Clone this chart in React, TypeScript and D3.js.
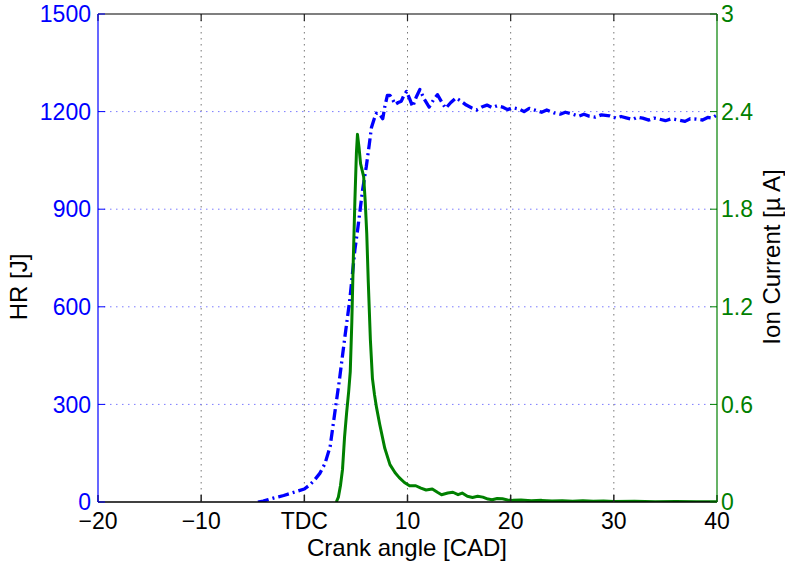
import React from "react";
import * as d3 from "d3";

const xTicks = [-20, -10, 0, 10, 20, 30, 40];
const xTickLabels = ["\u221220", "\u221210", "TDC", "10", "20", "30", "40"];
const hrTicks = [0, 300, 600, 900, 1200, 1500];
const ionTicks = [0, 0.6, 1.2, 1.8, 2.4, 3];
const ionTickLabels = ["0", "0.6", "1.2", "1.8", "2.4", "3"];

const hrAngle = [
  -4.5, -4, -3.5, -3, -2.5, -2, -1.5, -1, -0.5, 0, 0.5, 1, 1.5, 2, 2.5, 3, 3.4, 3.9, 4.4, 4.9,
  5.2, 5.65, 6.0, 6.3, 6.5, 6.8, 7.0, 7.3, 7.6, 7.8, 8.05, 8.3, 8.55, 8.8, 9.1, 9.4, 9.65, 9.9,
  10.2, 10.5, 10.85, 11.2, 11.6, 12.1, 12.5, 12.9, 13.3, 13.7, 14.2, 14.7, 15.2, 15.7, 16.2,
  16.7, 17.2, 17.7, 18.2, 18.7, 19.2, 19.7, 20.2, 20.8, 21.3, 21.8, 22.5, 23.0, 23.5, 24.2,
  24.8, 25.3, 26.0, 26.6, 27.1, 27.6, 28.2, 28.8, 29.6, 30.2, 30.7, 31.2, 31.8, 32.3, 32.8,
  33.4, 33.9, 34.4, 35.0, 35.6, 36.3, 36.9, 37.4, 38.0, 38.6, 39.1, 39.5, 40,
];
const hrValue = [
  0, 3, 7, 12, 16, 20, 25, 30, 35, 40, 52, 68, 88, 118, 170, 285, 375, 500, 620, 775,
  845, 960, 1030, 1100, 1150, 1180, 1195, 1192, 1178, 1215, 1250, 1250, 1238, 1222, 1228, 1232, 1250, 1262,
  1240, 1215, 1245, 1268, 1240, 1214, 1235, 1252, 1230, 1210, 1228, 1242, 1232, 1220, 1212,
  1205, 1214, 1220, 1212, 1218, 1214, 1206, 1212, 1208, 1200, 1210, 1203, 1198, 1205, 1196,
  1192, 1198, 1192, 1186, 1192, 1186, 1183, 1190, 1187, 1180, 1185, 1181, 1176, 1183, 1180,
  1174, 1180, 1177, 1172, 1178, 1174, 1170, 1178, 1177, 1174, 1182, 1180, 1190,
];

const ionAngle = [
  3.1, 3.3, 3.5, 3.7, 3.9, 4.1, 4.3, 4.45, 4.6, 4.75, 4.9, 5.05, 5.15, 5.3, 5.45, 5.6, 5.75,
  5.9, 6.05, 6.2, 6.4, 6.6, 6.8, 7.0, 7.3, 7.8, 8.3, 8.8, 9.2, 9.7, 10.2, 10.8, 11.3, 11.8,
  12.4, 12.9, 13.3, 13.9, 14.4, 14.9, 15.3, 15.8, 16.3, 16.8, 17.3, 17.8, 18.2, 18.7, 19.2,
  19.7, 20.2, 21, 22, 23, 24, 25, 26, 27, 28, 29, 30, 32, 34, 36, 38, 40,
];
const ionValue = [
  0, 0.03, 0.1, 0.2, 0.4, 0.55, 0.68, 0.8, 1.1, 1.5, 1.85, 2.15, 2.26, 2.18, 2.08, 2.04, 2.0,
  1.85, 1.65, 1.35, 1.0, 0.76, 0.66, 0.58, 0.48, 0.33, 0.23, 0.18, 0.15, 0.12, 0.1, 0.1, 0.085, 0.074,
  0.08, 0.06, 0.045, 0.055, 0.06, 0.045, 0.055, 0.035, 0.028, 0.035, 0.03, 0.018, 0.014, 0.022, 0.02,
  0.012, 0.01, 0.012, 0.008, 0.01, 0.006, 0.008, 0.005, 0.007, 0.004, 0.006, 0.003, 0.004, 0.002, 0.003, 0.002, 0.002,
];

const BLUE = "#0000ff";
const GREEN = "#008000";
const FONT = "'Liberation Sans', Arial, Helvetica, sans-serif";

export default function App() {
  const W = 785;
  const H = 564;
  const left = 98;
  const right = 717;
  const top = 14;
  const bottom = 502;

  const x = d3.scaleLinear().domain([-20, 40]).range([left, right]);
  const yL = d3.scaleLinear().domain([0, 1500]).range([bottom, top]);
  const yR = d3.scaleLinear().domain([0, 3]).range([bottom, top]);

  const hrLine = d3
    .line<number>()
    .x((_, i) => x(hrAngle[i]))
    .y((d) => yL(d));
  const ionLine = d3
    .line<number>()
    .x((_, i) => x(ionAngle[i]))
    .y((d) => yR(d));

  const tickLen = 7;
  const tickFont = 23;
  const labelFont = 24;

  return (
    <svg
      width={W}
      height={H}
      style={{ position: "absolute", left: 0, top: 0, background: "#fff" }}
      fontFamily={FONT}
    >
      <rect x={0} y={0} width={W} height={H} fill="#fff" />
      {xTicks.slice(1, -1).map((t) => (
        <line
          key={"vg" + t}
          x1={x(t)}
          x2={x(t)}
          y1={top}
          y2={bottom}
          stroke="#777"
          strokeWidth={1}
          strokeDasharray="1.5,4.5"
        />
      ))}
      {hrTicks.slice(1, -1).map((t) => (
        <line
          key={"hg" + t}
          x1={left}
          x2={right}
          y1={yL(t)}
          y2={yL(t)}
          stroke="#7a7aff"
          strokeWidth={1}
          strokeDasharray="1.5,4.5"
        />
      ))}

      <defs>
        <clipPath id="plotclip">
          <rect x={left} y={top} width={right - left} height={bottom - top} />
        </clipPath>
      </defs>

      <g clipPath="url(#plotclip)">
        <path
          d={hrLine(hrValue) || ""}
          fill="none"
          stroke={BLUE}
          strokeWidth={3.3}
          strokeDasharray="11,4,2,4"
          strokeLinejoin="round"
        />
        <path
          d={ionLine(ionValue) || ""}
          fill="none"
          stroke={GREEN}
          strokeWidth={3}
          strokeLinejoin="round"
        />
      </g>

      <line x1={left} x2={right} y1={top} y2={top} stroke="#000" strokeWidth={1.2} />
      <line x1={left} x2={right} y1={bottom} y2={bottom} stroke="#000" strokeWidth={1.5} />
      {xTicks.map((t) => (
        <g key={"xt" + t}>
          <line x1={x(t)} x2={x(t)} y1={bottom} y2={bottom - tickLen} stroke="#222" strokeWidth={1.5} />
          <line x1={x(t)} x2={x(t)} y1={top} y2={top + tickLen} stroke="#222" strokeWidth={1.2} />
        </g>
      ))}
      <line x1={left} x2={left} y1={top} y2={bottom} stroke={BLUE} strokeWidth={1.2} />
      {hrTicks.map((t) => (
        <line key={"lt" + t} x1={left} x2={left + tickLen} y1={yL(t)} y2={yL(t)} stroke={BLUE} strokeWidth={1} />
      ))}
      <line x1={right} x2={right} y1={top} y2={bottom} stroke={GREEN} strokeWidth={1.2} />
      {ionTicks.map((t) => (
        <line key={"rt" + t} x1={right} x2={right - tickLen} y1={yR(t)} y2={yR(t)} stroke={GREEN} strokeWidth={1} />
      ))}

      {xTicks.map((t, i) => (
        <text key={"xl" + t} x={x(t)} y={529} textAnchor="middle" fontSize={tickFont} fill="#000">
          {xTickLabels[i]}
        </text>
      ))}
      {hrTicks.map((t) => (
        <text
          key={"yl" + t}
          x={91}
          y={yL(t)}
          dy="0.36em"
          textAnchor="end"
          fontSize={tickFont}
          fill={BLUE}
        >
          {t}
        </text>
      ))}
      {ionTicks.map((t, i) => (
        <text
          key={"yr" + t}
          x={721}
          y={yR(t)}
          dy="0.36em"
          textAnchor="start"
          fontSize={tickFont}
          fill={GREEN}
        >
          {ionTickLabels[i]}
        </text>
      ))}

      <text x={407} y={556} textAnchor="middle" fontSize={labelFont} fill="#000">
        Crank angle [CAD]
      </text>
      <text
        transform="translate(27,287) rotate(-90)"
        textAnchor="middle"
        fontSize={labelFont}
        fill="#000"
      >
        HR [J]
      </text>
      <text
        transform="translate(780,257) rotate(-90)"
        textAnchor="middle"
        fontSize={labelFont}
        fill="#000"
      >
        Ion Current [µ A]
      </text>
    </svg>
  );
}
